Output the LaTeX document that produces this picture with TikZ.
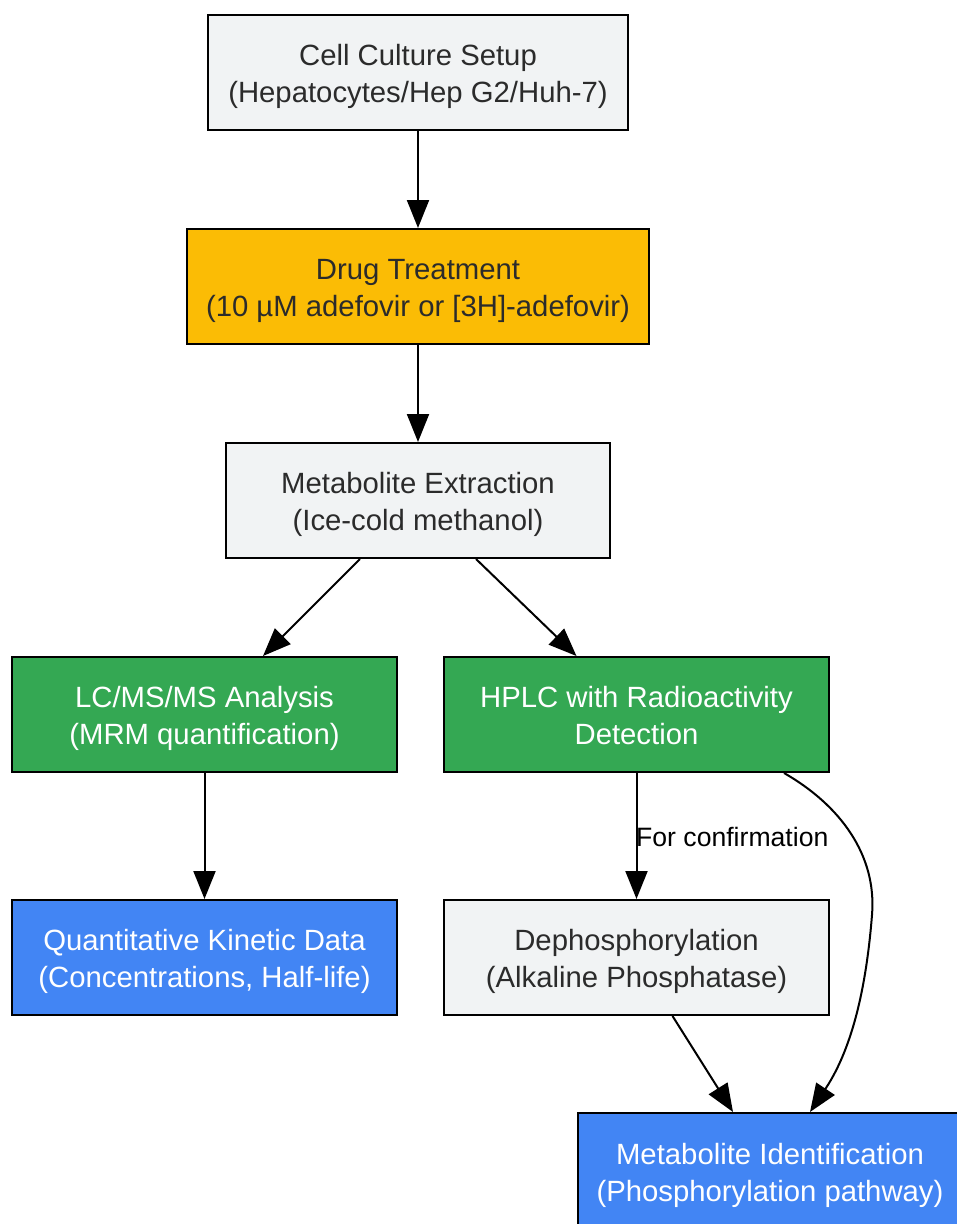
\documentclass[tikz,border=0pt]{standalone}
\usepackage{fontspec}
\setmainfont{Liberation Sans}
\usetikzlibrary{arrows.meta,calc}
\definecolor{boxgray}{HTML}{F1F3F4}
\definecolor{gyellow}{HTML}{FBBC05}
\definecolor{ggreen}{HTML}{34A853}
\definecolor{gblue}{HTML}{4285F4}
\definecolor{txtgray}{HTML}{2B2B2B}
\tikzset{
  box/.style={draw=black, line width=2pt, align=center, inner sep=0pt,
    minimum height=115pt, font=\fontsize{29.3}{36.5}\selectfont,
    text height=66.7pt, text depth=7pt},
  graybox/.style={box, fill=boxgray, text=txtgray},
  yellowbox/.style={box, fill=gyellow, text=txtgray},
  greenbox/.style={box, fill=ggreen, text=white},
  bluebox/.style={box, fill=gblue, text=white},
  conn/.style={line width=2pt, -{Triangle[length=28pt,width=22pt]}},
  lbl/.style={font=\fontsize{26.6}{30}\selectfont, text=black, inner sep=0pt}
}
\begin{document}
\begin{tikzpicture}[x=1pt,y=-1pt]
\useasboundingbox[fill=white] (0,0) rectangle (957,1224);
\node[graybox, minimum width=420pt] (cell) at (418,72.5) {Cell Culture Setup\\(Hepatocytes/Hep G2/Huh-7)};
\node[yellowbox, minimum width=462pt] (drug) at (418,286.5) {Drug Treatment\\(10 µM adefovir or [3H]-adefovir)};
\node[graybox, minimum width=384pt] (ext) at (418,500.5) {Metabolite Extraction\\(Ice-cold methanol)};
\node[greenbox, minimum width=385pt] (lc) at (204.5,714.5) {LC/MS/MS Analysis\\(MRM quantification)};
\node[greenbox, minimum width=385pt] (hplc) at (636.5,714.5) {HPLC with Radioactivity\\Detection};
\node[bluebox, minimum width=385pt] (quant) at (204.5,957.5) {Quantitative Kinetic Data\\(Concentrations, Half-life)};
\node[graybox, minimum width=385pt] (deph) at (636.5,957.5) {Dephosphorylation\\(Alkaline Phosphatase)};
\node[bluebox, minimum width=385pt, minimum height=117pt] (metid) at (770,1171.5) {Metabolite Identification\\(Phosphorylation pathway)};

\draw[conn] (cell) -- (drug);
\draw[conn] (drug) -- (ext);
\draw[conn] ($(ext.south)+(-58,0)$) -- ($(lc.north)+(58.5,0)$);
\draw[conn] ($(ext.south)+(58,0)$) -- ($(hplc.north)+(-60,0)$);
\draw[conn] (lc) -- (quant);
\draw[conn] (hplc) -- (deph);
\node[lbl, anchor=west] (conf) at (636,837) {For confirmation};
\draw[conn] ($(deph.south)+(36,0)$) -- ($(metid.north)+(-37,0)$);
\coordinate (bend) at (872,915);
\draw[line width=2pt] ($(hplc.south)+(147.5,0)$) .. controls (840,805) and (877,855) .. (bend);
\draw[conn] (bend) .. controls (868,965) and (858,1040) .. ($(metid.north)+(40,0)$);
\end{tikzpicture}
\end{document}
